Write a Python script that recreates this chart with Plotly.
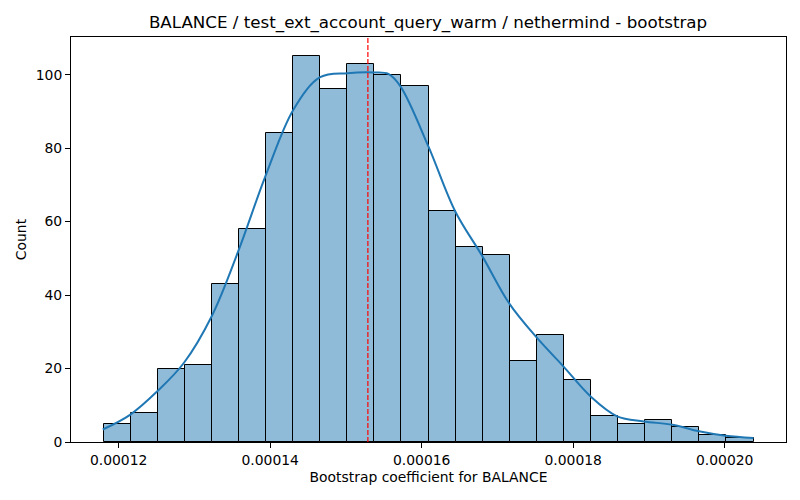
import numpy as np
import plotly.graph_objects as go

# histogram bins
BIN_START = 0.000118
BIN_WIDTH = 3.575e-6
counts = [5, 8, 20, 21, 43, 58, 84, 105, 96, 103, 100, 97,
          63, 53, 51, 22, 29, 17, 7, 5, 6, 4, 2, 1]

# kde curve (scaled to counts)
kde_x = [0.0001179, 0.0001215, 0.0001251, 0.0001286, 0.0001323, 0.0001358,
         0.0001394, 0.0001431, 0.0001466, 0.0001502, 0.0001537, 0.0001556,
         0.0001572, 0.0001609, 0.0001644, 0.0001680, 0.0001715, 0.0001752,
         0.0001787, 0.0001823, 0.0001858, 0.0001893, 0.0001931, 0.0001966,
         0.0002001, 0.0002038]
kde_y = [3.4, 7.4, 13.8, 21.5, 34.3, 52.0, 72.5, 90.6, 99.3, 100.4, 100.6, 100.2,
         96.8, 80.4, 62.9, 50.6, 37.9, 28.4, 20.6, 12.4, 7.0, 5.6, 4.7, 2.9,
         1.7, 1.1]

mean_coef = 0.0001529

edges = BIN_START + BIN_WIDTH * np.arange(len(counts) + 1)
centers = (edges[:-1] + edges[1:]) / 2
x_lo = edges[0] - 0.05 * (edges[-1] - edges[0])
x_hi = edges[-1] + 0.05 * (edges[-1] - edges[0])

FONT = "DejaVu Sans"
SMALL = 13.9   # 10pt at 100 dpi
BIG = 16.7     # 12pt

fig = go.Figure()
fig.add_trace(go.Bar(
    x=centers, y=counts, width=BIN_WIDTH,
    marker=dict(color="rgba(31,119,180,0.5)", line=dict(color="black", width=1)),
    showlegend=False,
))
fig.add_trace(go.Scatter(
    x=kde_x, y=kde_y, mode="lines",
    line=dict(color="#1f77b4", width=2, shape="spline", smoothing=1.0),
    showlegend=False,
))
fig.add_shape(type="line", x0=mean_coef, x1=mean_coef, y0=0, y1=1,
              xref="x", yref="paper",
              line=dict(color="red", width=1.2, dash="5px,2px"))

fig.update_layout(
    width=800, height=500,
    title=dict(text="BALANCE / test_ext_account_query_warm / nethermind - bootstrap",
               x=0.535, xanchor="center", y=0.955, yanchor="middle",
               font=dict(family=FONT, size=BIG, color="black")),
    font=dict(family=FONT, size=SMALL, color="black"),
    paper_bgcolor="white", plot_bgcolor="white",
    margin=dict(l=71, r=14, t=37, b=58),
    bargap=0,
    xaxis=dict(
        title=dict(text="Bootstrap coefficient for BALANCE", standoff=5,
                   font=dict(family=FONT, size=SMALL, color="black")),
        automargin=False,
        range=[x_lo, x_hi], tickvals=[0.00012, 0.00014, 0.00016, 0.00018, 0.00020],
        tickformat=".5f", ticks="outside", ticklen=5, tickcolor="black",
        tickfont=dict(family=FONT, size=SMALL, color="black"),
        showgrid=False, zeroline=False, showline=True, linecolor="black",
        mirror=True, linewidth=1,
    ),
    yaxis=dict(
        title=dict(text="Count", standoff=5,
                   font=dict(family=FONT, size=SMALL, color="black")),
        automargin=False,
        range=[0, 110.25], tickvals=[0, 20, 40, 60, 80, 100],
        ticks="outside", ticklen=5, tickcolor="black",
        tickfont=dict(family=FONT, size=SMALL, color="black"),
        showgrid=False, zeroline=False, showline=True, linecolor="black",
        mirror=True, linewidth=1,
    ),
)

fig.write_html("out.html",
               config={"displayModeBar": False},
               post_script="document.body.style.margin='0px';"
                           "document.body.style.overflow='hidden';")
